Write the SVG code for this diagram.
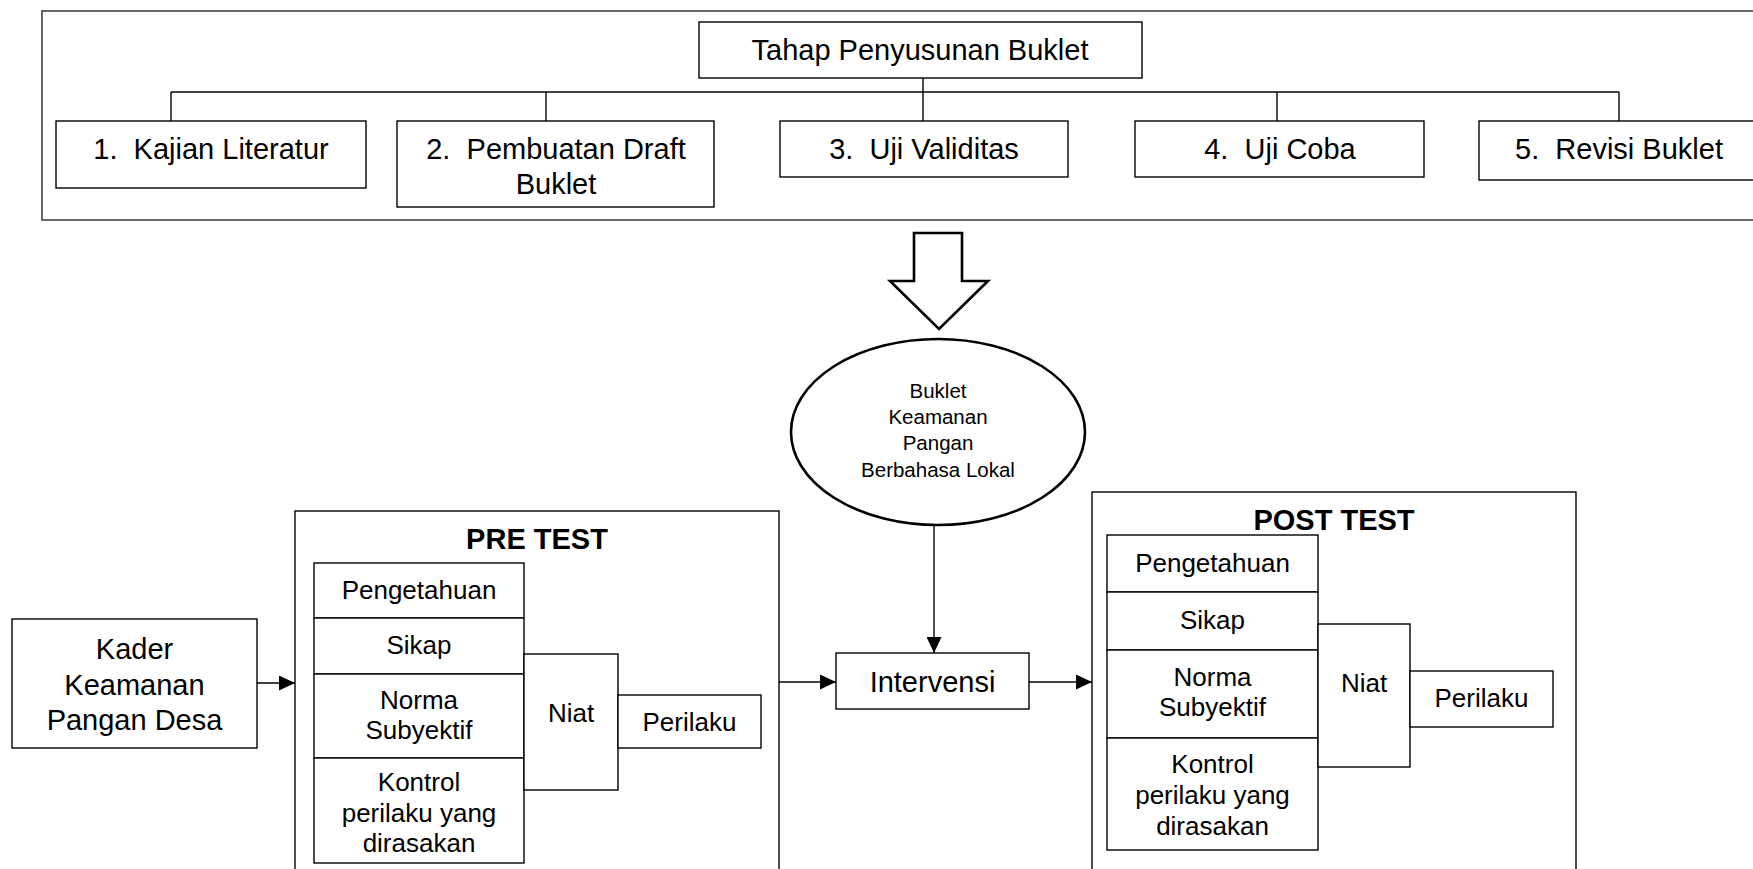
<svg xmlns="http://www.w3.org/2000/svg" width="1753" height="869" viewBox="0 0 1753 869">
<style>
  .box { fill: #fff; stroke: #000; stroke-width: 1.4; }
  .frame { fill: #fff; stroke: #444; stroke-width: 1.6; }
  .thick { fill: #fff; stroke: #000; stroke-width: 2.6; }
  .ln { fill: none; stroke: #000; stroke-width: 1.4; }
  text { font-family: "Liberation Sans", Arial, sans-serif; fill: #000; text-anchor: middle; }
  .t29 { font-size: 29px; white-space: pre; }
  .t26 { font-size: 26px; }
  .t20 { font-size: 20.5px; }
  .hd { font-size: 29px; font-weight: bold; }
</style>
<defs>
  <marker id="arr" viewBox="0 0 16 15" refX="16" refY="7.5" markerWidth="16" markerHeight="15" markerUnits="userSpaceOnUse" orient="auto">
    <path d="M0,0 L16,7.5 L0,15 Z" fill="#000"/>
  </marker>
</defs>
<rect width="1753" height="869" fill="#fff"/>

<g id="frame-top">
  <rect class="frame" x="42" y="11" width="1740" height="209"/>
</g>

<g id="connectors">
  <line class="ln" x1="171" y1="92" x2="1619" y2="92"/>
  <line class="ln" x1="923" y1="78" x2="923" y2="121"/>
  <line class="ln" x1="171" y1="92" x2="171" y2="121"/>
  <line class="ln" x1="546" y1="92" x2="546" y2="121"/>
  <line class="ln" x1="1277" y1="92" x2="1277" y2="121"/>
  <line class="ln" x1="1619" y1="92" x2="1619" y2="121"/>
  <line class="ln" x1="934" y1="525" x2="934" y2="653" marker-end="url(#arr)"/>
  <line class="ln" x1="257" y1="683" x2="295" y2="683" marker-end="url(#arr)"/>
  <line class="ln" x1="779" y1="682" x2="836" y2="682" marker-end="url(#arr)"/>
  <line class="ln" x1="1029" y1="682" x2="1092" y2="682" marker-end="url(#arr)"/>
</g>

<g id="title">
  <rect class="box" x="699" y="22" width="443" height="56"/>
  <text class="t29" x="920" y="60">Tahap Penyusunan Buklet</text>
</g>
<g id="step1">
  <rect class="box" x="56" y="121" width="310" height="67"/>
  <text class="t29" x="211" y="159">1.  Kajian Literatur</text>
</g>
<g id="step2">
  <rect class="box" x="397" y="121" width="317" height="86"/>
  <text class="t29" x="556" y="159">2.  Pembuatan Draft</text>
  <text class="t29" x="556" y="194">Buklet</text>
</g>
<g id="step3">
  <rect class="box" x="780" y="121" width="288" height="56"/>
  <text class="t29" x="924" y="159">3.  Uji Validitas</text>
</g>
<g id="step4">
  <rect class="box" x="1135" y="121" width="289" height="56"/>
  <text class="t29" x="1280" y="159">4.  Uji Coba</text>
</g>
<g id="step5">
  <rect class="box" x="1479" y="121" width="280" height="59"/>
  <text class="t29" x="1619" y="159">5.  Revisi Buklet</text>
</g>

<g id="big-arrow">
  <polygon class="thick" points="914,233 962,233 962,281 988,281 939,329 890,281 914,281"/>
</g>

<g id="buklet">
  <ellipse class="thick" cx="938" cy="432" rx="147" ry="93"/>
  <text class="t20" x="938" y="398">Buklet</text>
  <text class="t20" x="938" y="424">Keamanan</text>
  <text class="t20" x="938" y="450">Pangan</text>
  <text class="t20" x="938" y="477">Berbahasa Lokal</text>
</g>

<g id="kader">
  <rect class="box" x="12" y="619" width="245" height="129"/>
  <text class="t29" x="134.5" y="659">Kader</text>
  <text class="t29" x="134.5" y="694.5">Keamanan</text>
  <text class="t29" x="134.5" y="730">Pangan Desa</text>
</g>

<g id="pretest">
  <rect class="box" x="295" y="511" width="484" height="380"/>
  <text class="hd" x="537" y="549">PRE TEST</text>
  <rect class="box" x="314" y="563" width="210" height="55"/>
  <text class="t26" x="419" y="599">Pengetahuan</text>
  <rect class="box" x="314" y="618" width="210" height="56"/>
  <text class="t26" x="419" y="654">Sikap</text>
  <rect class="box" x="314" y="674" width="210" height="84"/>
  <text class="t26" x="419" y="709">Norma</text>
  <text class="t26" x="419" y="739">Subyektif</text>
  <rect class="box" x="314" y="758" width="210" height="105"/>
  <text class="t26" x="419" y="791">Kontrol</text>
  <text class="t26" x="419" y="822">perilaku yang</text>
  <text class="t26" x="419" y="852">dirasakan</text>
  <rect class="box" x="524" y="654" width="94" height="136"/>
  <text class="t26" x="571" y="722">Niat</text>
  <rect class="box" x="618" y="695" width="143" height="53"/>
  <text class="t26" x="689.5" y="731">Perilaku</text>
</g>

<g id="intervensi">
  <rect class="box" x="836" y="653" width="193" height="56"/>
  <text class="t29" x="932.5" y="692">Intervensi</text>
</g>

<g id="posttest">
  <rect class="box" x="1092" y="492" width="484" height="400"/>
  <text class="hd" x="1334" y="530">POST TEST</text>
  <rect class="box" x="1107" y="535" width="211" height="57"/>
  <text class="t26" x="1212.5" y="572">Pengetahuan</text>
  <rect class="box" x="1107" y="592" width="211" height="58"/>
  <text class="t26" x="1212.5" y="629">Sikap</text>
  <rect class="box" x="1107" y="650" width="211" height="88"/>
  <text class="t26" x="1212.5" y="686">Norma</text>
  <text class="t26" x="1212.5" y="716">Subyektif</text>
  <rect class="box" x="1107" y="738" width="211" height="112"/>
  <text class="t26" x="1212.5" y="773">Kontrol</text>
  <text class="t26" x="1212.5" y="804">perilaku yang</text>
  <text class="t26" x="1212.5" y="835">dirasakan</text>
  <rect class="box" x="1318" y="624" width="92" height="143"/>
  <text class="t26" x="1364" y="692">Niat</text>
  <rect class="box" x="1410" y="671" width="143" height="56"/>
  <text class="t26" x="1481.5" y="707">Perilaku</text>
</g>
</svg>
